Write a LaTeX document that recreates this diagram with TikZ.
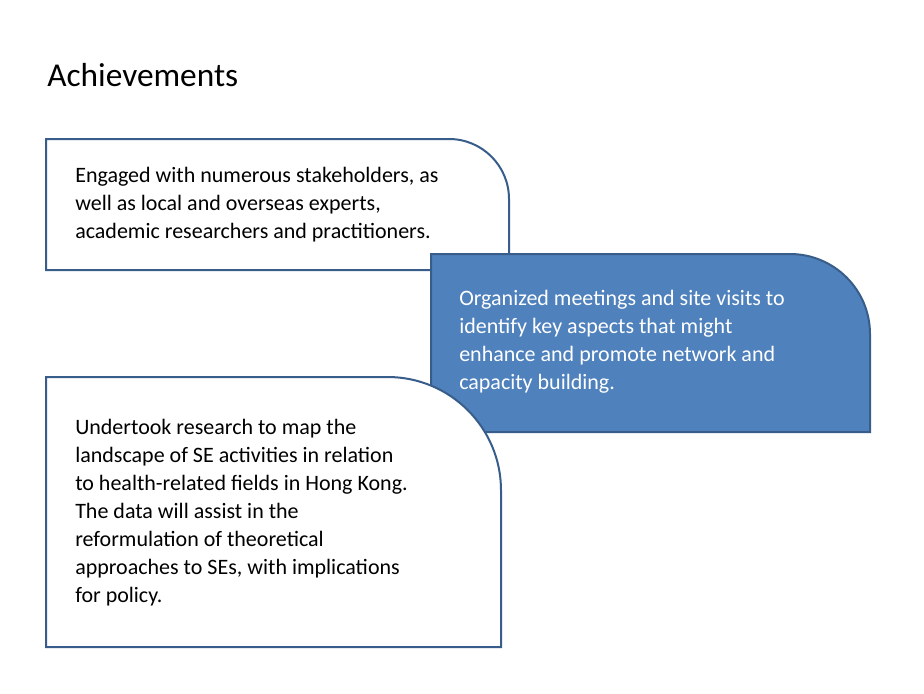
\documentclass[tikz,border=0pt]{standalone}
\usepackage{fontspec}
\setmainfont{Carlito}
\begin{document}
\begin{tikzpicture}[x=0.75pt,y=-0.75pt,
  box/.style={draw=boxline,line width=1.5pt},
  txt/.style={anchor=north west,align=left,inner sep=0pt,font=\fontsize{16.5}{21}\selectfont}]
\definecolor{boxline}{HTML}{385D8A}
\definecolor{boxfill}{HTML}{4F81BD}
\useasboundingbox (0,0) rectangle (924,693);
\node[anchor=west,inner sep=0pt,font=\fontsize{25}{30}\selectfont] (title) at (47,75) {Achievements};
\draw[box,fill=white] (46,270) -- (46,139) [rounded corners=45pt]-- (509,139) [sharp corners]-- (509,270) -- cycle;
\draw[box,fill=boxfill] (431,432) -- (431,254) [rounded corners=60pt]-- (870,254) [sharp corners]-- (870,432) -- cycle;
\draw[box,fill=white] (46,647) -- (46,377) [rounded corners=85pt]-- (501,377) [sharp corners]-- (501,647) -- cycle;
\node[txt] (t1) at (75,167) {Engaged with numerous stakeholders, as\\well as local and overseas experts,\\academic researchers and practitioners.};
\node[txt,text=white] (t2) at (459,290) {Organized meetings and site visits to\\identify key aspects that might\\enhance and promote network and\\capacity building.};
\node[txt] (t3) at (75,419) {Undertook research to map the\\landscape of SE activities in relation\\to health-related fields in Hong Kong.\\The data will assist in the\\reformulation of theoretical\\approaches to SEs, with implications\\for policy.};
\end{tikzpicture}
\end{document}
